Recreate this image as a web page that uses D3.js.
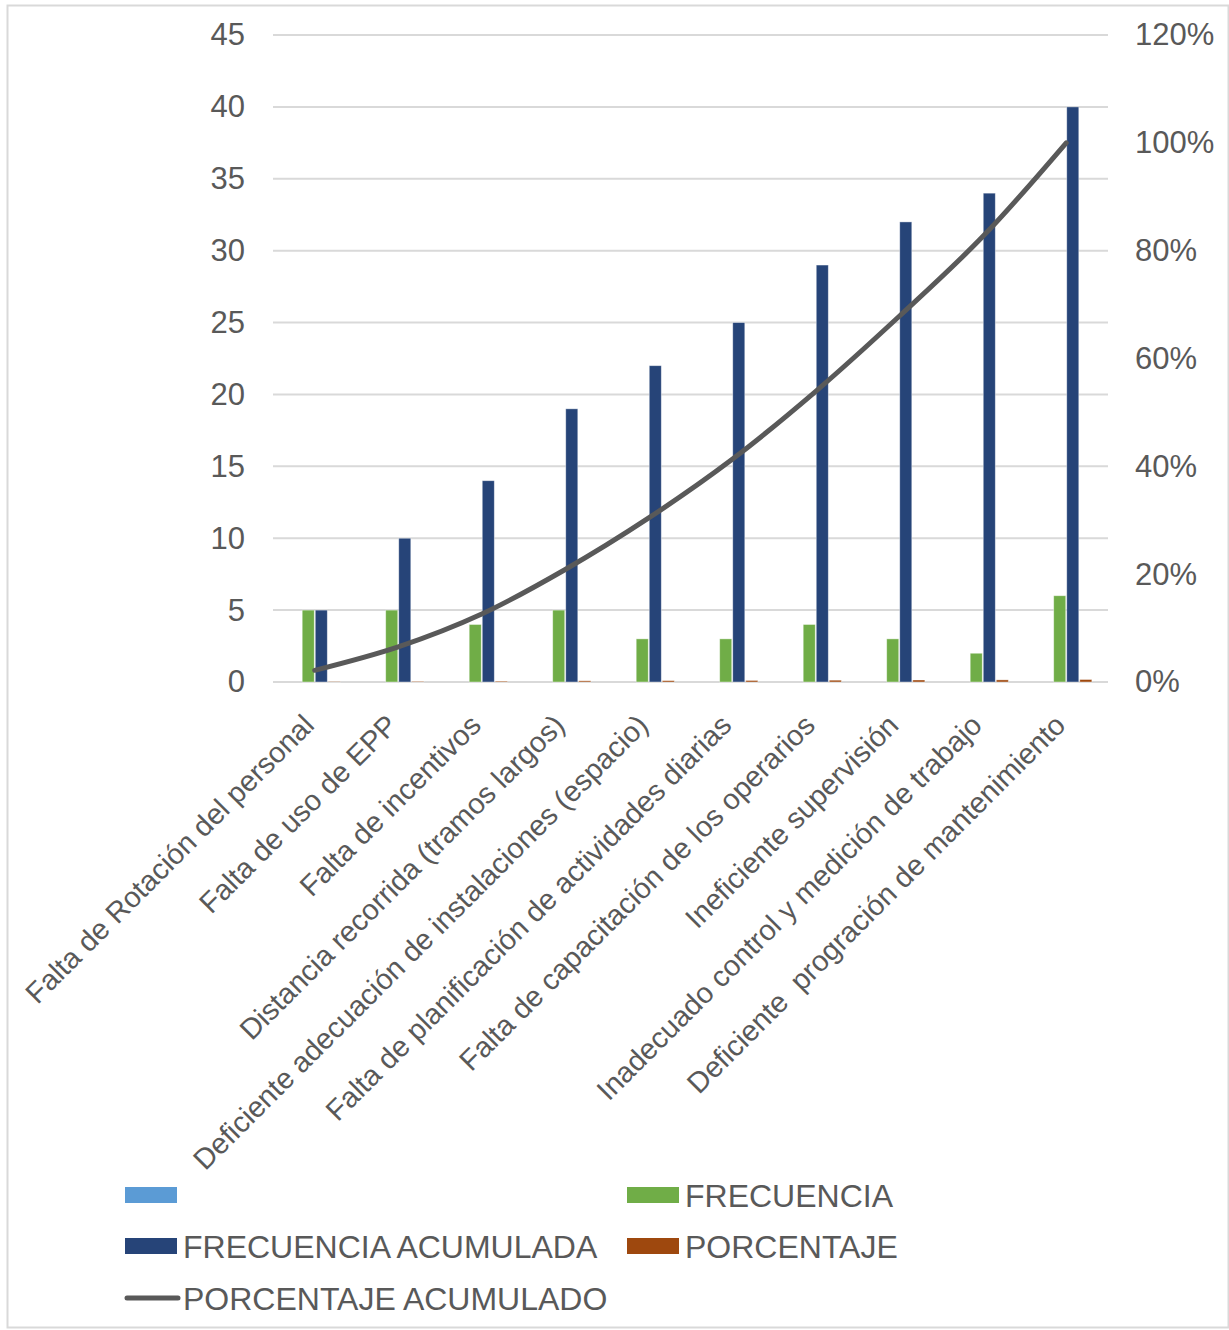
<!DOCTYPE html>
<html>
<head>
<meta charset="utf-8">
<script src="https://cdn.jsdelivr.net/npm/d3@7"></script>
<style>
  html, body { margin: 0; padding: 0; background: #fff; }
  svg text { font-family: "Liberation Sans", Arial, sans-serif; fill: #595959; }
</style>
</head>
<body>
<svg id="chart" width="1229" height="1330"></svg>
<script>
// Pareto table of causes
const categories = [
  "Falta de Rotación del personal",
  "Falta de uso de EPP",
  "Falta de incentivos",
  "Distancia recorrida (tramos largos)",
  "Deficiente adecuación de instalaciones (espacio)",
  "Falta de planificación de actividades diarias",
  "Falta de capacitación de los operarios",
  "Ineficiente supervisión",
  "Inadecuado control y medición de trabajo",
  "Deficiente  progración de mantenimiento"
];
const blankSeries = [0, 0, 0, 0, 0, 0, 0, 0, 0, 0];
const frecuencia = [5, 5, 4, 5, 3, 3, 4, 3, 2, 6];
const frecuenciaAcumulada = [5, 10, 14, 19, 22, 25, 29, 32, 34, 40];
const porcentaje = [0.0217, 0.0435, 0.0609, 0.0826, 0.0957, 0.1087, 0.1261, 0.1391, 0.1478, 0.1739];
const porcentajeAcumulado = [0.0217, 0.0652, 0.1261, 0.2087, 0.3043, 0.4130, 0.5391, 0.6783, 0.8261, 1.0];
const leftTicks = [0, 5, 10, 15, 20, 25, 30, 35, 40, 45];
const rightTicks = [0, 0.2, 0.4, 0.6, 0.8, 1.0, 1.2];

const barSeries = [
  { name: "", values: blankSeries, color: "#5B9BD5" },
  { name: "FRECUENCIA", values: frecuencia, color: "#70AD47" },
  { name: "FRECUENCIA ACUMULADA", values: frecuenciaAcumulada, color: "#264478" },
  { name: "PORCENTAJE", values: porcentaje, color: "#9E480E" }
];

const svg = d3.select("#chart");
const plot = { left: 273, right: 1108, top: 35, bottom: 682 };

// outer frame
svg.append("rect")
  .attr("x", 7.5).attr("y", 5.5).attr("width", 1221).attr("height", 1322)
  .attr("fill", "none").attr("stroke", "#d9d9d9").attr("stroke-width", 2);

const x0 = d3.scaleBand().domain(categories).range([plot.left, plot.right]).paddingInner(0.375).paddingOuter(0.1875);
const x1 = d3.scaleBand().domain(d3.range(barSeries.length)).range([0, x0.bandwidth()]);
const yL = d3.scaleLinear().domain([0, 45]).range([plot.bottom, plot.top]);
const yR = d3.scaleLinear().domain([0, 1.2]).range([plot.bottom, plot.top]);

// gridlines
svg.append("g").selectAll("line").data(leftTicks).join("line")
  .attr("x1", plot.left).attr("x2", plot.right)
  .attr("y1", d => yL(d)).attr("y2", d => yL(d))
  .attr("stroke", "#d9d9d9").attr("stroke-width", 2);

// left axis
const leftAxis = svg.append("g").attr("transform", `translate(${plot.left},0)`)
  .call(d3.axisLeft(yL).tickValues(leftTicks).tickSize(0).tickPadding(28));
leftAxis.select(".domain").remove();
leftAxis.selectAll("text").style("font-size", "31px").attr("fill", "#595959");

// right axis
const rightAxis = svg.append("g").attr("transform", `translate(${plot.right},0)`)
  .call(d3.axisRight(yR).tickValues(rightTicks).tickSize(0).tickPadding(27).tickFormat(d3.format(".0%")));
rightAxis.select(".domain").remove();
rightAxis.selectAll("text").style("font-size", "31px").attr("fill", "#595959");

// bars
const groups = svg.append("g").selectAll("g").data(barSeries).join("g")
  .attr("fill", d => d.color);
groups.each(function(s, si) {
  d3.select(this).selectAll("rect").data(s.values).join("rect")
    .attr("x", (v, i) => x0(categories[i]) + x1(si) + 0.5)
    .attr("width", x1.bandwidth() - 1)
    .attr("y", v => yL(v))
    .attr("height", v => plot.bottom - yL(v))
    .attr("stroke", "#ffffff").attr("stroke-opacity", 0.5).attr("stroke-width", 0.8);
});

// cumulative percentage line
const line = d3.line()
  .x((v, i) => x0(categories[i]) + x0.bandwidth() / 2)
  .y(v => yR(v))
  .curve(d3.curveCatmullRom.alpha(0.5));
svg.append("path").datum(porcentajeAcumulado)
  .attr("d", line).attr("fill", "none")
  .attr("stroke", "#595959").attr("stroke-width", 5).attr("stroke-linecap", "round");

// category labels
svg.append("g").selectAll("text").data(categories).join("text")
  .attr("transform", d => `translate(${x0(d) + x0.bandwidth() / 2 + 1},${plot.bottom + 45}) rotate(-45)`)
  .attr("text-anchor", "end")
  .style("font-size", "29px")
  .style("white-space", "pre")
  .text(d => d);

// legend
const legendItems = [
  { s: barSeries[0], x: 125, y: 1195, type: "rect" },
  { s: barSeries[1], x: 627, y: 1195, type: "rect" },
  { s: barSeries[2], x: 125, y: 1246, type: "rect" },
  { s: barSeries[3], x: 627, y: 1246, type: "rect" },
  { s: { name: "PORCENTAJE ACUMULADO", color: "#595959" }, x: 125, y: 1298, type: "line" }
];
const lg = svg.append("g").selectAll("g").data(legendItems).join("g")
  .attr("transform", d => `translate(${d.x},${d.y})`);
lg.filter(d => d.type === "rect").append("rect")
  .attr("x", 0).attr("y", -8).attr("width", 52).attr("height", 16)
  .attr("fill", d => d.s.color);
lg.filter(d => d.type === "line").append("line")
  .attr("x1", 2).attr("x2", 53).attr("y1", 0).attr("y2", 0)
  .attr("stroke", d => d.s.color).attr("stroke-width", 5).attr("stroke-linecap", "round");
lg.append("text")
  .attr("x", 58).attr("y", 0).attr("dy", "0.36em")
  .style("font-size", "32px")
  .text(d => d.s.name);
</script>
</body>
</html>
